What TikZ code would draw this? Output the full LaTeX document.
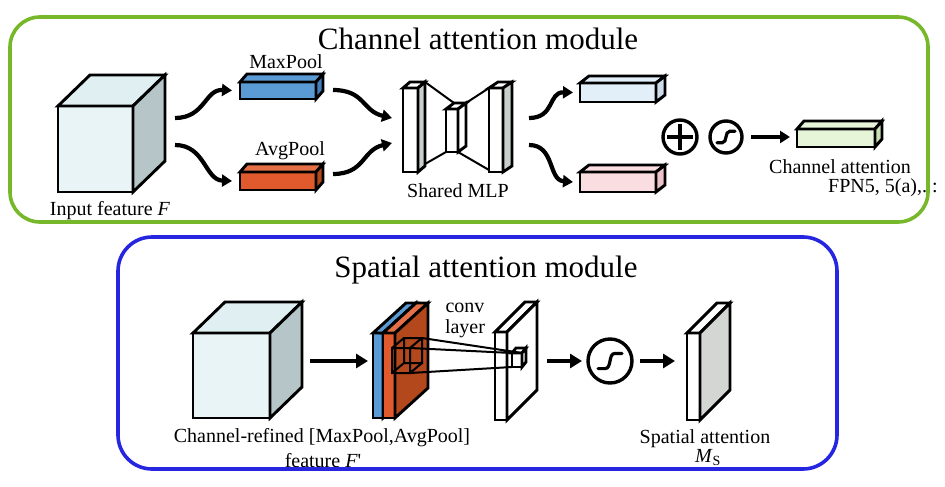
\documentclass[tikz,border=0pt]{standalone}
\usepackage{fontspec}
\setmainfont{Liberation Serif}
\usetikzlibrary{arrows.meta, calc}
\definecolor{camline}{RGB}{118,184,42}
\definecolor{samline}{RGB}{38,38,225}
\definecolor{cubefront}{RGB}{232,244,246}
\definecolor{cubetop}{RGB}{224,239,242}
\definecolor{cubeside}{RGB}{181,197,200}
\definecolor{maxfill}{RGB}{91,155,213}
\definecolor{maxside}{RGB}{70,125,190}
\definecolor{avgfill}{RGB}{224,90,45}
\definecolor{avgtop}{RGB}{229,112,72}
\definecolor{avgside}{RGB}{178,72,28}
\definecolor{mlpside}{RGB}{200,208,203}
\definecolor{outblue}{RGB}{227,239,248}
\definecolor{outblueside}{RGB}{204,220,234}
\definecolor{outpink}{RGB}{249,221,225}
\definecolor{outpinkside}{RGB}{234,194,200}
\definecolor{attgreen}{RGB}{230,244,216}
\definecolor{attgreenside}{RGB}{202,224,178}
\definecolor{mapside}{RGB}{211,214,211}

% name, front north-west corner, width, height, depth, front fill, top fill, side fill
\newcommand{\prism}[8]{%
  \node[face, fill=#6, minimum width=#3, minimum height=#4, anchor=north west] (#1) at #2 {};
  \draw[face, fill=#7] (#1.north west) -- ++#5 -- ($(#1.north east)+#5$) -- (#1.north east) -- cycle;
  \draw[face, fill=#8] (#1.north east) -- ++#5 -- ($(#1.south east)+#5$) -- (#1.south east) -- cycle;
}
\newcommand{\sigcurve}[2]{%
  \draw[sline, shift={(#1.center)}, scale=#2] (-0.6,0.38) -- (-0.25,0.38)
    .. controls (0.1,0.38) and (-0.1,-0.38) .. (0.25,-0.38) -- (0.6,-0.38);
}

\begin{document}
\begin{tikzpicture}[x=1pt, y=-1pt,
  face/.style={draw, line width=2.9pt, outer sep=0pt, inner sep=0pt},
  frame/.style={draw, line width=3.6pt, rounded corners=30pt, outer sep=0pt, inner sep=0pt},
  title/.style={font=\fontsize{31}{36}\selectfont, inner sep=0pt},
  lbl/.style={font=\fontsize{20}{23}\selectfont, inner sep=0pt},
  opcirc/.style={circle, draw, line width=3.4pt, inner sep=0pt, outer sep=0pt},
  sline/.style={line width=3.2pt, line cap=round},
  curvy/.style={-{Triangle[length=10pt, width=12pt]}, line width=4.2pt},
  flow/.style={-{Triangle[length=12pt, width=14pt]}, line width=4.2pt},
  kern/.style={line width=2pt},
]
\useasboundingbox (0,0) rectangle (945,487);

% channel attention module
\node[title, anchor=base] (camt) at (478,50) {Channel attention module};
\prism{infeat}{(58,106)}{75pt}{86pt}{(32,-31)}{cubefront}{cubetop}{cubeside}
\node[lbl, anchor=base] at (110,215) {Input feature \textit{F}};
\prism{maxp}{(240,82)}{76pt}{17pt}{(7,-8)}{maxfill}{maxfill}{maxside}
\node[lbl, anchor=base] at (286,69) {MaxPool};
\prism{avgp}{(240,172)}{76pt}{18pt}{(7,-8)}{avgfill}{avgtop}{avgside}
\node[lbl, anchor=base] at (290,155) {AvgPool};

% shared MLP
\draw[kern] (425,82) -- (454,103) (466,103) -- (489,88)
  (425,164) -- (446,152) (458,152) -- (489,170);
\prism{mlpa}{(403,88)}{15pt}{84pt}{(7,-6)}{white}{white}{mlpside}
\prism{mlpb}{(446,109)}{12pt}{43pt}{(8,-6)}{white}{white}{white}
\prism{mlpc}{(489,88)}{14pt}{84pt}{(9,-6)}{white}{white}{mlpside}
\node[lbl, anchor=base] at (458,197) {Shared MLP};

\prism{outmax}{(580,83)}{76pt}{19pt}{(9,-7)}{outblue}{outblue}{outblueside}
\prism{outavg}{(580,172)}{76pt}{20pt}{(9,-7)}{outpink}{outpink}{outpinkside}

\coordinate (inU) at (175,118);
\coordinate (inD) at (175,145);
\coordinate (maxo) at (333,90);
\coordinate (avgo) at (333,174);
\coordinate (mlpU) at (529,118);
\coordinate (mlpD) at (529,145);
\draw[curvy] (inU) .. controls (205,118) and (205,89) .. ([xshift=-8pt]maxp.west);
\draw[curvy] (inD) .. controls (205,145) and (205,180) .. ([xshift=-8pt]avgp.west);
\draw[curvy] (maxo) .. controls (365,90) and (362,111) .. (392,118);
\draw[curvy] (avgo) .. controls (365,174) and (362,150) .. (392,143);
\draw[curvy] (mlpU) .. controls (555,118) and (548,92) .. ([xshift=-7pt]outmax.west);
\draw[curvy] (mlpD) .. controls (555,145) and (548,180) .. ([xshift=-7pt]outavg.west);

\node[opcirc, minimum size=34pt] (oplus) at (680,137) {};
\draw[line width=3.4pt] ([xshift=4pt]oplus.west) -- ([xshift=-4pt]oplus.east)
  ([yshift=-4pt]oplus.north) -- ([yshift=4pt]oplus.south);
\node[opcirc, minimum size=32pt] (sigc) at (726,137) {};
\sigcurve{sigc}{15}
\prism{chatt}{(797,129)}{78pt}{18pt}{(7,-8)}{attgreen}{attgreen}{attgreenside}
\draw[curvy, shorten <=9pt, shorten >=7pt] (sigc.east) -- (sigc.east -| chatt.west);
\node[lbl, anchor=base] at (840,173) {Channel attention};
\node[lbl, anchor=base west] at (828,192) {FPN5, 5(a),.\ :};

% spatial attention module
\node[title, anchor=base] (samt) at (486,277) {Spatial attention module};
\prism{refined}{(193,333)}{77pt}{85pt}{(32,-31)}{cubefront}{cubetop}{cubeside}
\node[lbl, anchor=base] at (322,442) {Channel-refined [MaxPool,AvgPool]};
\node[lbl, anchor=base] at (323,467) {feature \textit{F}\textquotesingle};

\prism{stkb}{(373,333)}{10pt}{85pt}{(33,-30)}{maxfill}{maxfill}{maxfill}
\prism{stko}{(383,333)}{12pt}{85pt}{(33,-30)}{avgfill}{avgtop}{avgside}
\prism{convmap}{(495,332)}{12pt}{88pt}{(30,-30)}{white}{white}{white}
\prism{tinyk}{(512,353)}{10pt}{14pt}{(4,-5)}{white}{white}{white}

% conv kernel
\draw[kern] (392,348) rectangle (410,373) (404,338) rectangle (422,363)
  (392,348) -- (404,338) (410,348) -- (422,338) (410,373) -- (422,363) (392,373) -- (404,363);
\draw[kern] (422,338) -- (tinyk.north east) (410,348) -- (tinyk.north west) (410,373) -- (tinyk.south west);
\node[lbl, anchor=base] at (465,312) {conv};
\node[lbl, anchor=base] at (465,333) {layer};

\coordinate (refo) at (310,361);
\coordinate (mapo) at (547,361);
\draw[flow, shorten >=5pt] (refo) -- (refo -| stkb.west);
\node[opcirc, minimum size=44pt] (sigs) at (610,361) {};
\sigcurve{sigs}{20}
\prism{spatt}{(687,333)}{13pt}{87pt}{(30,-30)}{white}{white}{mapside}
\draw[flow, shorten >=6pt] (mapo) -- (sigs.west);
\draw[flow, shorten <=8pt, shorten >=12pt] (sigs.east) -- (sigs.east -| spatt.west);
\node[lbl, anchor=base] at (705,443) {Spatial attention};
\node[lbl, anchor=base] at (708,462) {\textit{M}\textsubscript{S}};

% module frames
\node[frame, draw=camline, minimum width=918pt, minimum height=205pt, anchor=north west] (cam) at (10,17) {};
\node[frame, draw=samline, minimum width=719pt, minimum height=232pt, anchor=north west, rounded corners=34pt] (sam) at (118,237) {};
\end{tikzpicture}
\end{document}
